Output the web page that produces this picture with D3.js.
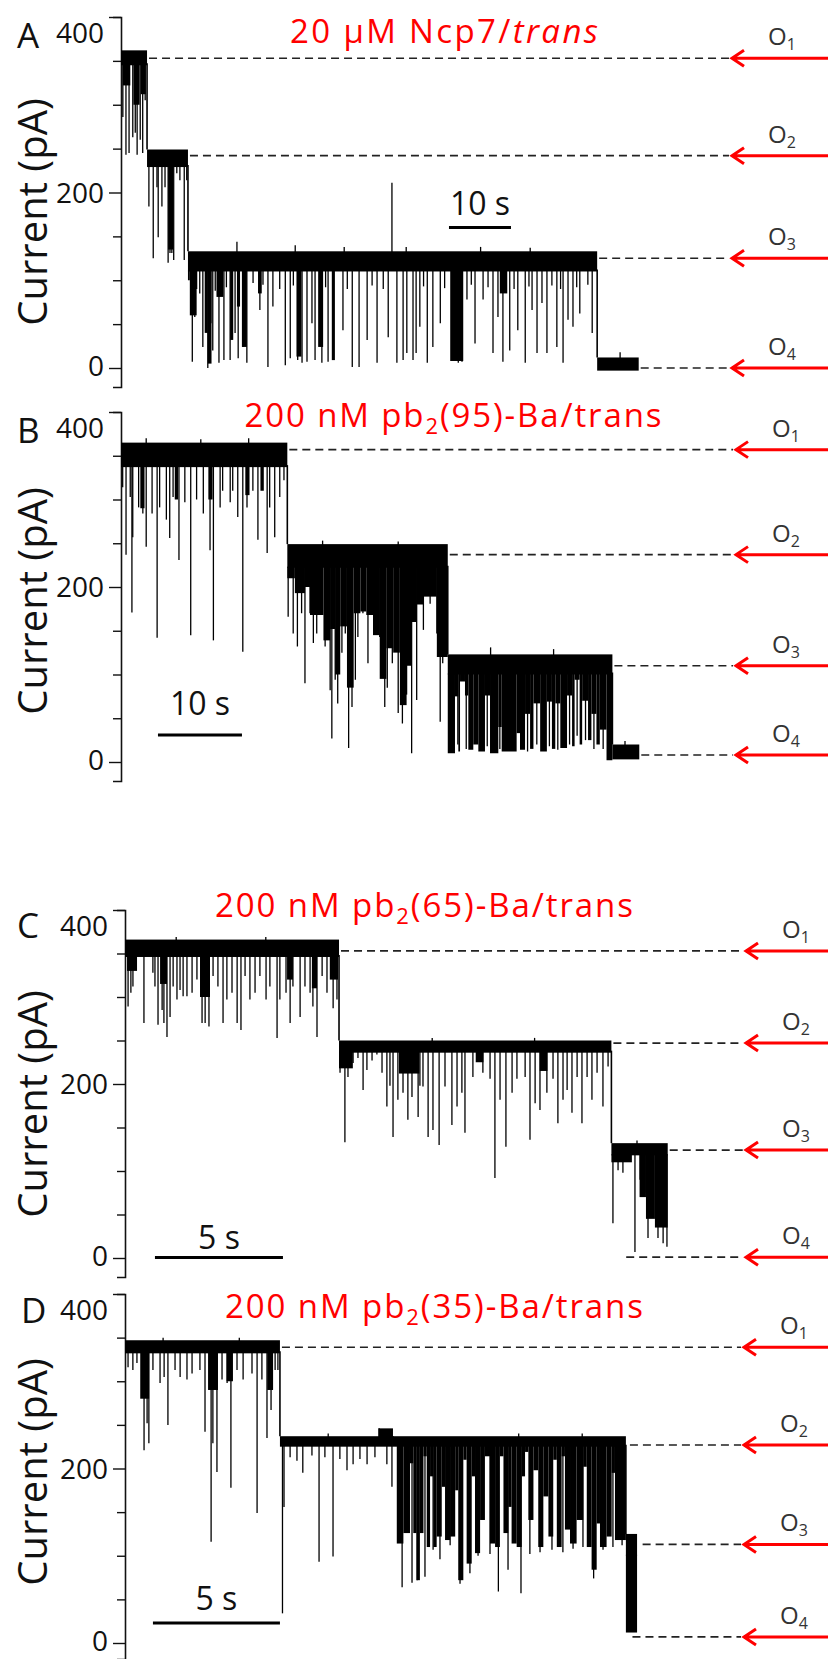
<!DOCTYPE html>
<html><head><meta charset="utf-8">
<script src="https://cdn.jsdelivr.net/npm/d3@7"></script>
<style>body{margin:0;background:#fff}svg{display:block}</style>
</head><body>
<svg id="c" width="828" height="1659"></svg>
<script>
// ================= DATA =================
const panelLetters = ["A", "B", "C", "D"];
const yTicks = [0, 50, 100, 150, 200, 250, 300, 350, 400];
const yTickLabels = [0, 200, 400];
const yTitle = "Current (pA)";
const openNames = ["1", "2", "3", "4"];
const durations = [83.5, 61.7, 21.2, 20.16];            // s
const scaleBarLen = [10, 10, 5, 5];                     // s
const scaleBarText = ["10 s", "10 s", "5 s", "5 s"];

// levels: [t0, t1, bandLow, bandHigh] (pA)
const aLevels = [[0,4.2,345,362],[4.2,10.8,229,249],[10.8,76.8,110,133],[76.8,83.5,-3,12]];
const bLevels = [[0,19.8,337,365],[19.8,38.9,222,249],[38.9,58.5,100,123],[58.5,61.7,3,20]];
const cLevels = [[0,8.36,346,366],[8.36,19.0,236,250],[19.0,21.2,118,132]];
const dLevels = [[0,6.1,332,347],[6.1,10.0,225,237],[10.0,10.55,225,246],[10.55,19.72,225,237],[19.72,20.16,100,125]];

// dense flicker bursts: [t0, t1, lowest current of the solid part]
const aBlocks = [[0.3,1.5,322],[2.0,3.0,300],[3.2,4.0,312],[7.6,8.4,135],
  [10.8,11.1,100],[11.1,12.2,60],[13.5,14.0,40],[14.0,14.6,5],[15.4,16.5,81],[17.6,18.1,32],[18.7,19.2,70],[19.5,20.3,24],
  [22.1,22.7,85],[28.3,29.1,13],[31.8,32.6,24],[34.0,34.5,9],[53.1,55.2,8],[61.1,62.3,85]];
const bBlocks = [[2.3,2.8,290],[6.4,6.8,300],[10.4,10.9,300],[14.8,15.3,305],[16.6,17.0,310],
  [19.8,20.7,210],[20.7,21.9,193],[21.9,22.5,200],[22.5,24.1,168],[24.1,24.9,139],[24.9,25.5,152],[25.5,26.1,100],[26.1,26.9,155],
  [26.9,27.7,85],[27.7,28.5,170],[28.5,29.2,172],[29.2,30.0,168],[30.0,30.8,145],[30.8,31.6,95],[31.6,32.4,130],[32.4,33.2,125],
  [33.2,34.0,65],[34.0,34.6,110],[34.6,35.2,160],[35.2,36.0,180],[36.0,37.6,189],[37.6,38.9,120],
  [38.9,39.76,10],[39.76,40.16,75],[40.16,40.36,12],[40.36,40.95,92],[40.95,41.35,76],[41.35,41.94,14],[41.94,42.54,20],
  [42.54,43.33,12],[43.33,43.93,76],[43.93,44.92,10],[44.92,45.32,40],[45.32,47.1,12],[47.1,47.5,33],[47.5,48.1,14],[48.1,48.7,55],
  [48.7,49.1,15],[49.1,49.9,67],[49.9,50.7,12],[50.7,51.3,69],[51.3,51.7,15],[51.7,52.3,67],[52.3,53.1,16],[53.1,53.7,76],
  [53.7,54.0,18],[54.0,54.6,94],[54.6,54.9,20],[54.9,55.6,70],[55.6,56.0,25],[56.0,56.6,55],[56.6,57.0,20],[57.0,57.8,37],[57.8,58.5,2]];
const cBlocks = [[0.08,0.47,330],[1.37,1.64,315],[2.93,3.32,300],[6.33,6.56,320],[7.3,7.5,310],[8.0,8.32,320],[8.36,8.9,218],[10.7,11.5,212],
  [13.7,14.0,225],[16.2,16.5,215],[19.0,19.8,110],[20.1,20.35,70],[20.35,20.7,45],[20.7,21.2,35]];
const dBlocks = [[0.6,0.95,280],[3.27,3.66,290],[4.0,4.25,300],[5.6,5.83,290],
  [10.70,10.96,114],[10.96,11.22,126],[11.22,11.35,206],[11.35,11.48,126],[11.48,11.61,72],[11.61,11.75,126],[11.75,11.88,214],
  [11.88,12.01,110],[12.01,12.14,191],[12.14,12.27,110],[12.27,12.47,122],[12.47,12.60,179],[12.60,12.80,118],[12.80,13.0,122],
  [13.0,13.12,175],[13.12,13.32,72],[13.32,13.45,210],[13.45,13.65,91],[13.65,13.78,191],[13.78,13.98,103],[13.98,14.17,141],
  [14.17,14.37,214],[14.37,14.57,114],[14.57,14.76,110],[14.76,14.90,214],[14.90,15.09,126],[15.09,15.22,156],[15.22,15.42,114],
  [15.42,15.62,110],[15.62,15.75,191],[15.75,15.88,219],[15.88,16.08,141],[16.08,16.27,198],[16.27,16.47,110],[16.47,16.67,168],
  [16.67,16.86,122],[16.86,17.0,210],[17.0,17.19,110],[17.19,17.32,214],[17.32,17.52,130],[17.52,17.78,114],[17.78,18.04,141],
  [18.04,18.18,202],[18.18,18.37,110],[18.37,18.57,84],[18.57,18.70,137],[18.70,18.96,110],[18.96,19.16,122],[19.16,19.29,195],
  [19.29,19.72,118],[19.72,20.16,12]];

// single closures: [t, lowest current]
const aSpikes = [[0.3,286],[0.8,243],[1.3,245],[1.9,263],[2.3,268],[2.6,243],[3.1,260],[3.5,245],[3.9,305],
  [4.5,184],[5.2,125],[5.8,206],[6.0,149],[6.6,184],[7.1,206],[7.6,120],[7.9,131],[8.2,131],[8.5,123],[9.0,222],[9.5,214],[10.2,123],[10.6,214],
  [11.5,7],[11.9,58],[12.2,90],[12.7,85],[13.2,24],[14.0,0],[14.5,51],[14.8,20],[15.2,88],[15.8,6],[16.6,9],[17.0,92],[17.6,9],[18.4,40],[18.9,11],
  [19.7,24],[20.3,6],[21.3,97],[22.4,66],[22.9,95],[23.7,1],[24.5,70],[25.6,90],[26.5,3],[27.3,11],[27.8,94],[28.5,9],[29.2,6],[30.0,7],[30.8,51],
  [31.3,9],[32.4,6],[33.0,92],[33.4,7],[34.2,9],[35.8,43],[36.5,90],[37.3,1],[38.4,1],[39.7,32],[40.5,94],[41.3,6],[42.3,90],[43.1,35],[44.5,6],
  [45.5,9],[46.1,17],[47.1,9],[47.6,17],[48.2,47],[48.8,93],[49.4,6],[50.3,24],[51.5,51],[52.2,91],[53.5,17],[54.4,6],[55.0,7],[55.8,78],[56.5,95],
  [57.1,28],[58.4,78],[59.2,92],[60.0,17],[60.8,58],[61.6,7],[62.7,20],[63.4,90],[64.0,43],[65.2,6],[65.8,93],[66.3,66],[67.1,17],[67.9,74],[68.7,17],
  [69.5,94],[70.3,24],[70.9,90],[71.3,6],[72.1,55],[72.9,47],[73.5,92],[74.0,62],[75.3,95],[76.0,40]];
const bSpikes = [[0.2,314],[0.6,237],[1.1,303],[1.3,171],[1.4,257],[2.1,291],[2.6,284],[3.0,246],[3.7,284],[4.3,142],[4.6,291],[5.4,277],[5.8,256],
  [6.2,303],[6.9,231],[7.6,297],[8.3,145],[9.0,300],[9.8,284],[10.6,242],[11.0,139],[11.8,291],[12.1,310],[13.0,297],[13.3,310],[13.9,280],[14.5,126],
  [15.0,291],[15.7,310],[16.3,254],[17.4,239],[17.7,291],[18.3,257],[18.9,303],[19.4,322],
  [19.9,166],[20.5,147],[21.0,132],[21.5,170],[21.9,90],[22.5,170],[22.9,136],[23.3,147],[23.9,174],[24.3,132],[24.9,82],[25.1,27],[25.5,94],[25.8,67],
  [26.3,125],[26.7,147],[27.1,16],[27.5,63],[27.9,94],[28.2,143],[28.8,170],[29.4,113],[30.0,170],[30.8,143],[31.4,63],[31.7,85],[32.3,113],[33.0,56],
  [33.5,44],[33.6,132],[34.0,77],[34.6,10],[35.0,170],[35.2,71],[35.6,193],[36.0,151],[36.8,181],[37.6,147],[38.0,46],[38.3,113],[38.8,197],
  [40.1,20],[41.1,15],[43.6,18],[45.1,15],[48.4,12],[49.5,20],[51.0,18],[52.0,14],[53.4,20],[54.3,30],[55.3,25],[56.3,15],[57.4,15]];
const cSpikes = [[0.12,289],[0.23,305],[0.31,312],[0.39,331],[0.74,270],[1.09,328],[1.17,312],[1.29,268],[1.45,285],[1.52,270],[1.64,254],[1.76,277],
  [1.88,312],[2.03,297],[2.15,308],[2.27,301],[2.42,301],[2.62,305],[2.81,320],[3.01,270],[3.13,270],[3.28,266],[3.44,324],[3.63,312],[3.83,270],
  [3.98,297],[4.18,305],[4.38,270],[4.53,262],[4.69,324],[4.88,297],[5.08,305],[5.27,324],[5.51,297],[5.66,312],[5.94,253],[6.05,297],[6.29,305],
  [6.45,270],[6.56,312],[6.84,277],[7.03,312],[7.23,305],[7.34,289],[7.50,254],[7.70,324],[7.89,305],[8.13,287],[8.20,339],[8.28,297],
  [8.40,213],[8.59,133],[8.71,208],[8.91,224],[9.10,230],[9.30,193],[9.45,216],[9.65,227],[9.84,234],[10.04,213],[10.23,174],[10.35,198],[10.47,139],
  [10.66,182],[10.82,213],[10.86,190],[10.94,216],[11.05,159],[11.21,185],[11.25,224],[11.45,162],[11.52,198],[11.64,197],[11.84,139],[12.03,147],
  [12.27,130],[12.50,197],[12.77,153],[12.97,174],[13.16,190],[13.28,144],[13.59,208],[13.98,213],[14.26,206],[14.45,92],[14.65,182],[14.88,128],
  [15.12,190],[15.31,206],[15.63,208],[15.82,136],[16.02,178],[16.21,170],[16.48,190],[16.72,206],[16.91,155],[17.11,182],[17.27,193],[17.46,167],
  [17.66,208],[17.85,155],[18.05,208],[18.24,182],[18.44,213],[18.67,174],[18.87,220],
  [19.06,40],[19.26,101],[19.45,98],[19.65,113],[19.92,7],[20.12,90],[20.31,75],[20.43,23],[20.63,52],[20.82,23],[21.02,17],[21.17,13]];
const dSpikes = [[0.12,316],[0.31,313],[0.47,321],[0.67,287],[0.75,221],[0.87,252],[0.94,229],[1.10,313],[1.38,298],[1.54,305],[1.69,250],[1.97,313],
  [2.17,305],[2.44,302],[2.64,309],[2.95,313],[3.15,242],[3.39,116],[3.46,229],[3.62,196],[3.82,302],[4.02,298],[4.17,178],[4.41,313],[4.65,302],
  [5.0,309],[5.2,149],[5.39,302],[5.59,235],[5.75,267],[5.91,313],[6.02,313],
  [6.2,34],[6.26,156],[6.5,213],[6.77,209],[7.0,195],[7.36,215],[7.64,93],[7.87,213],[8.19,99],[8.46,211],[8.74,198],[8.98,205],[9.25,211],[9.53,205],
  [9.84,213],[10.31,205],[10.51,179],[10.75,198],[10.91,64],[11.1,130],[11.3,69],[11.5,72],[11.81,76],[12.13,107],
  [12.4,96],[12.8,112],[13.19,68],[13.58,80],[13.9,100],[14.37,102],[14.70,59],[15.08,84],[15.59,57],[15.94,102],[16.34,104],[16.81,107],[17.24,104],
  [17.64,108],[18.03,110],[18.45,74],[18.82,107],[19.21,110],[19.57,112]];
// brief openings above the band: [t, highest current]
const aUp = [[18.7,144],[28.1,140],[36.0,138],[43.7,211],[46.0,138],[58.0,138],[66.0,137],[80.5,18]];
const bUp = [[3.0,370],[9.5,369],[15.2,370],[24.0,253],[33.0,252],[44.0,131],[51.5,129],[60.0,24]];
const cUp = [[2.0,369],[5.5,369],[12.0,253],[16.0,253],[20.0,135]];
const dUp = [[1.5,350],[4.5,350],[8.0,240],[15.5,240],[18.0,240]];

// open-state levels O1..O4 (pA) and time where each dashed marker starts (s)
const aOpen = [353, 242, 125, 0],  aOpenStart = [4.2, 10.8, 76.8, 83.5];
const bOpen = [357, 237, 110, 8],  bOpenStart = [19.8, 38.9, 58.5, 61.7];
const cOpen = [353, 247, 124, 1],  cOpenStart = [8.36, 19.0, 21.2, 19.5];
const dOpen = [339, 227, 113, 7],  dOpenStart = [6.1, 19.8, 20.3, 19.9];

// ================= LAYOUT =================
const layout = [
  {axisX:121, y0:368,  y400:17,   yBot:387,  pps:6.2,  tipX:731, ox:768, lx:17, ly:48,   tx:444, ty:43,   tw:308, barT:52.9, barV:160, barDy:-13, ytc:212},
  {axisX:121, y0:762,  y400:412,  yBot:781,  pps:8.4,  tipX:735, ox:772, lx:17, ly:443,  tx:453, ty:427,  tw:417, barT:4.4,  barV:31,  barDy:-20, ytc:601},
  {axisX:125, y0:1258, y400:910,  yBot:1277, pps:25.6, tipX:745, ox:782, lx:17, ly:938,  tx:424, ty:917,  tw:418, barT:1.17, barV:0.5, barDy:-9,  ytc:1104},
  {axisX:125, y0:1643, y400:1294, yBot:1659, pps:25.4, tipX:743, ox:780, lx:21, ly:1323, tx:434, ty:1318, tw:418, barT:1.1,  barV:23,  barDy:-13, ytc:1472}
];
const panels = [
  {levels:aLevels, blocks:aBlocks, spikes:aSpikes, up:aUp, open:aOpen, openStart:aOpenStart, sub:null},
  {levels:bLevels, blocks:bBlocks, spikes:bSpikes, up:bUp, open:bOpen, openStart:bOpenStart, sub:"95"},
  {levels:cLevels, blocks:cBlocks, spikes:cSpikes, up:cUp, open:cOpen, openStart:cOpenStart, sub:"65"},
  {levels:dLevels, blocks:dBlocks, spikes:dSpikes, up:dUp, open:dOpen, openStart:dOpenStart, sub:"35"}
];

const FONT = "'Open Sans', 'Liberation Sans', sans-serif";
const svg = d3.select("#c");
svg.append("rect").attr("width",828).attr("height",1659).attr("fill","#fff");

panels.forEach((p, i) => {
  const L = layout[i];
  const g = svg.append("g");
  const x = d3.scaleLinear().domain([0, durations[i]]).range([L.axisX, L.axisX + durations[i]*L.pps]);
  const y = d3.scaleLinear().domain([0, 400]).range([L.y0, L.y400]);
  const yAx = d3.scaleLinear().domain([y.invert(L.yBot), 400]).range([L.yBot, L.y400]);
  const levelAt = t => p.levels.find(l => t >= l[0] && t < l[1]) || p.levels[p.levels.length-1];

  // axis
  const ax = d3.axisLeft(yAx).tickValues(yTicks).tickSizeOuter(0).tickSize(8)
    .tickFormat(d => yTickLabels.includes(d) ? d : "");
  const ag = g.append("g").attr("transform", `translate(${L.axisX},0)`).call(ax);
  ag.select(".domain").attr("stroke", "#111").attr("stroke-width", 1.6);
  ag.selectAll(".tick line").attr("x2", d => yTickLabels.includes(d) ? -12 : -8).attr("stroke","#111").attr("stroke-width", 1.4);
  ag.selectAll(".tick text").attr("x", -17).attr("font-size", 28).attr("font-family", FONT).attr("fill", "#111")
    .attr("dy", d => d === 400 ? "0.9em" : (d === 0 ? "0.27em" : "0.34em"));

  g.append("text").attr("transform", `translate(47,${L.ytc}) rotate(-90)`).attr("text-anchor","middle")
    .attr("font-family", FONT).attr("font-size", 40).attr("fill","#111").text(yTitle);
  g.append("text").attr("x", L.lx).attr("y", L.ly).attr("font-family", FONT).attr("font-size", 35).attr("fill","#111").text(panelLetters[i]);

  // title
  const tt = g.append("text").attr("x", L.tx).attr("y", L.ty).attr("text-anchor","middle")
    .attr("font-family", FONT).attr("font-size", 33).attr("fill", "#ff0000")
    .attr("textLength", L.tw).attr("lengthAdjust","spacing");
  if (p.sub === null) {
    tt.append("tspan").text("20 \u00B5M Ncp7/");
    tt.append("tspan").attr("font-style","italic").text("trans");
  } else {
    tt.append("tspan").text("200 nM pb");
    tt.append("tspan").attr("font-size", 22).attr("dy", 7).text("2");
    tt.append("tspan").attr("dy", -7).text(`(${p.sub})-Ba/trans`);
  }

  // trace
  const tr = g.append("g").attr("fill","#000").attr("stroke","#000");
  tr.selectAll("rect.band").data(p.levels).join("rect").attr("class","band")
    .attr("x", d => x(d[0])).attr("width", d => Math.max(1, x(d[1]) - x(d[0])))
    .attr("y", d => y(d[3])).attr("height", d => y(d[2]) - y(d[3])).attr("stroke","none");
  tr.selectAll("line.conn").data(p.levels.slice(0,-1).map((l,k) => [l, p.levels[k+1]])).join("line").attr("class","conn")
    .attr("x1", d => x(d[0][1])).attr("x2", d => x(d[0][1]))
    .attr("y1", d => y(d[0][2]) - 2).attr("y2", d => y(d[1][3])).attr("stroke-width", 1.6);
  tr.selectAll("rect.blk").data(p.blocks).join("rect").attr("class","blk")
    .attr("x", d => x(d[0])).attr("width", d => Math.max(1.2, x(d[1]) - x(d[0])))
    .attr("y", d => y(levelAt(d[0])[2]) - 1).attr("height", d => Math.max(0, y(d[2]) - y(levelAt(d[0])[2]) + 1)).attr("stroke","none");
  tr.selectAll("line.sp").data(p.spikes).join("line").attr("class","sp")
    .attr("x1", d => x(d[0])).attr("x2", d => x(d[0]))
    .attr("y1", d => y(levelAt(d[0])[2]) - 1).attr("y2", d => y(d[1])).attr("stroke-width", 1.3);
  tr.selectAll("line.up").data(p.up).join("line").attr("class","up")
    .attr("x1", d => x(d[0])).attr("x2", d => x(d[0]))
    .attr("y1", d => y(levelAt(d[0])[3]) + 1).attr("y2", d => y(d[1])).attr("stroke-width", 1.3);

  // scale bar
  g.append("line").attr("x1", x(L.barT)).attr("x2", x(L.barT + scaleBarLen[i]))
    .attr("y1", y(L.barV)).attr("y2", y(L.barV)).attr("stroke","#000").attr("stroke-width", 3);
  g.append("text").attr("x", (x(L.barT) + x(L.barT + scaleBarLen[i]))/2).attr("y", y(L.barV) + L.barDy)
    .attr("text-anchor","middle").attr("font-family", FONT).attr("font-size", 32).attr("fill","#111").text(scaleBarText[i]);

  // dashed markers, arrows, labels
  p.open.forEach((v, k) => {
    const yy = y(v);
    g.append("line").attr("x1", x(p.openStart[k]) + 2).attr("x2", L.tipX - 2).attr("y1", yy).attr("y2", yy)
      .attr("stroke","#222").attr("stroke-width", 1.6).attr("stroke-dasharray","8,5");
    g.append("path").attr("d", `M828,${yy}L${L.tipX+1},${yy}M${L.tipX+13},${yy-8}L${L.tipX+1},${yy}L${L.tipX+13},${yy+8}`)
      .attr("fill","none").attr("stroke","#ff0000").attr("stroke-width", 3);
    const lt = g.append("text").attr("x", L.ox).attr("y", yy - 13).attr("font-family", FONT).attr("font-size", 24).attr("fill","#333");
    lt.append("tspan").text("O");
    lt.append("tspan").attr("font-size", 16).attr("dy", 5).text(openNames[k]);
  });
});
</script>
</body></html>
